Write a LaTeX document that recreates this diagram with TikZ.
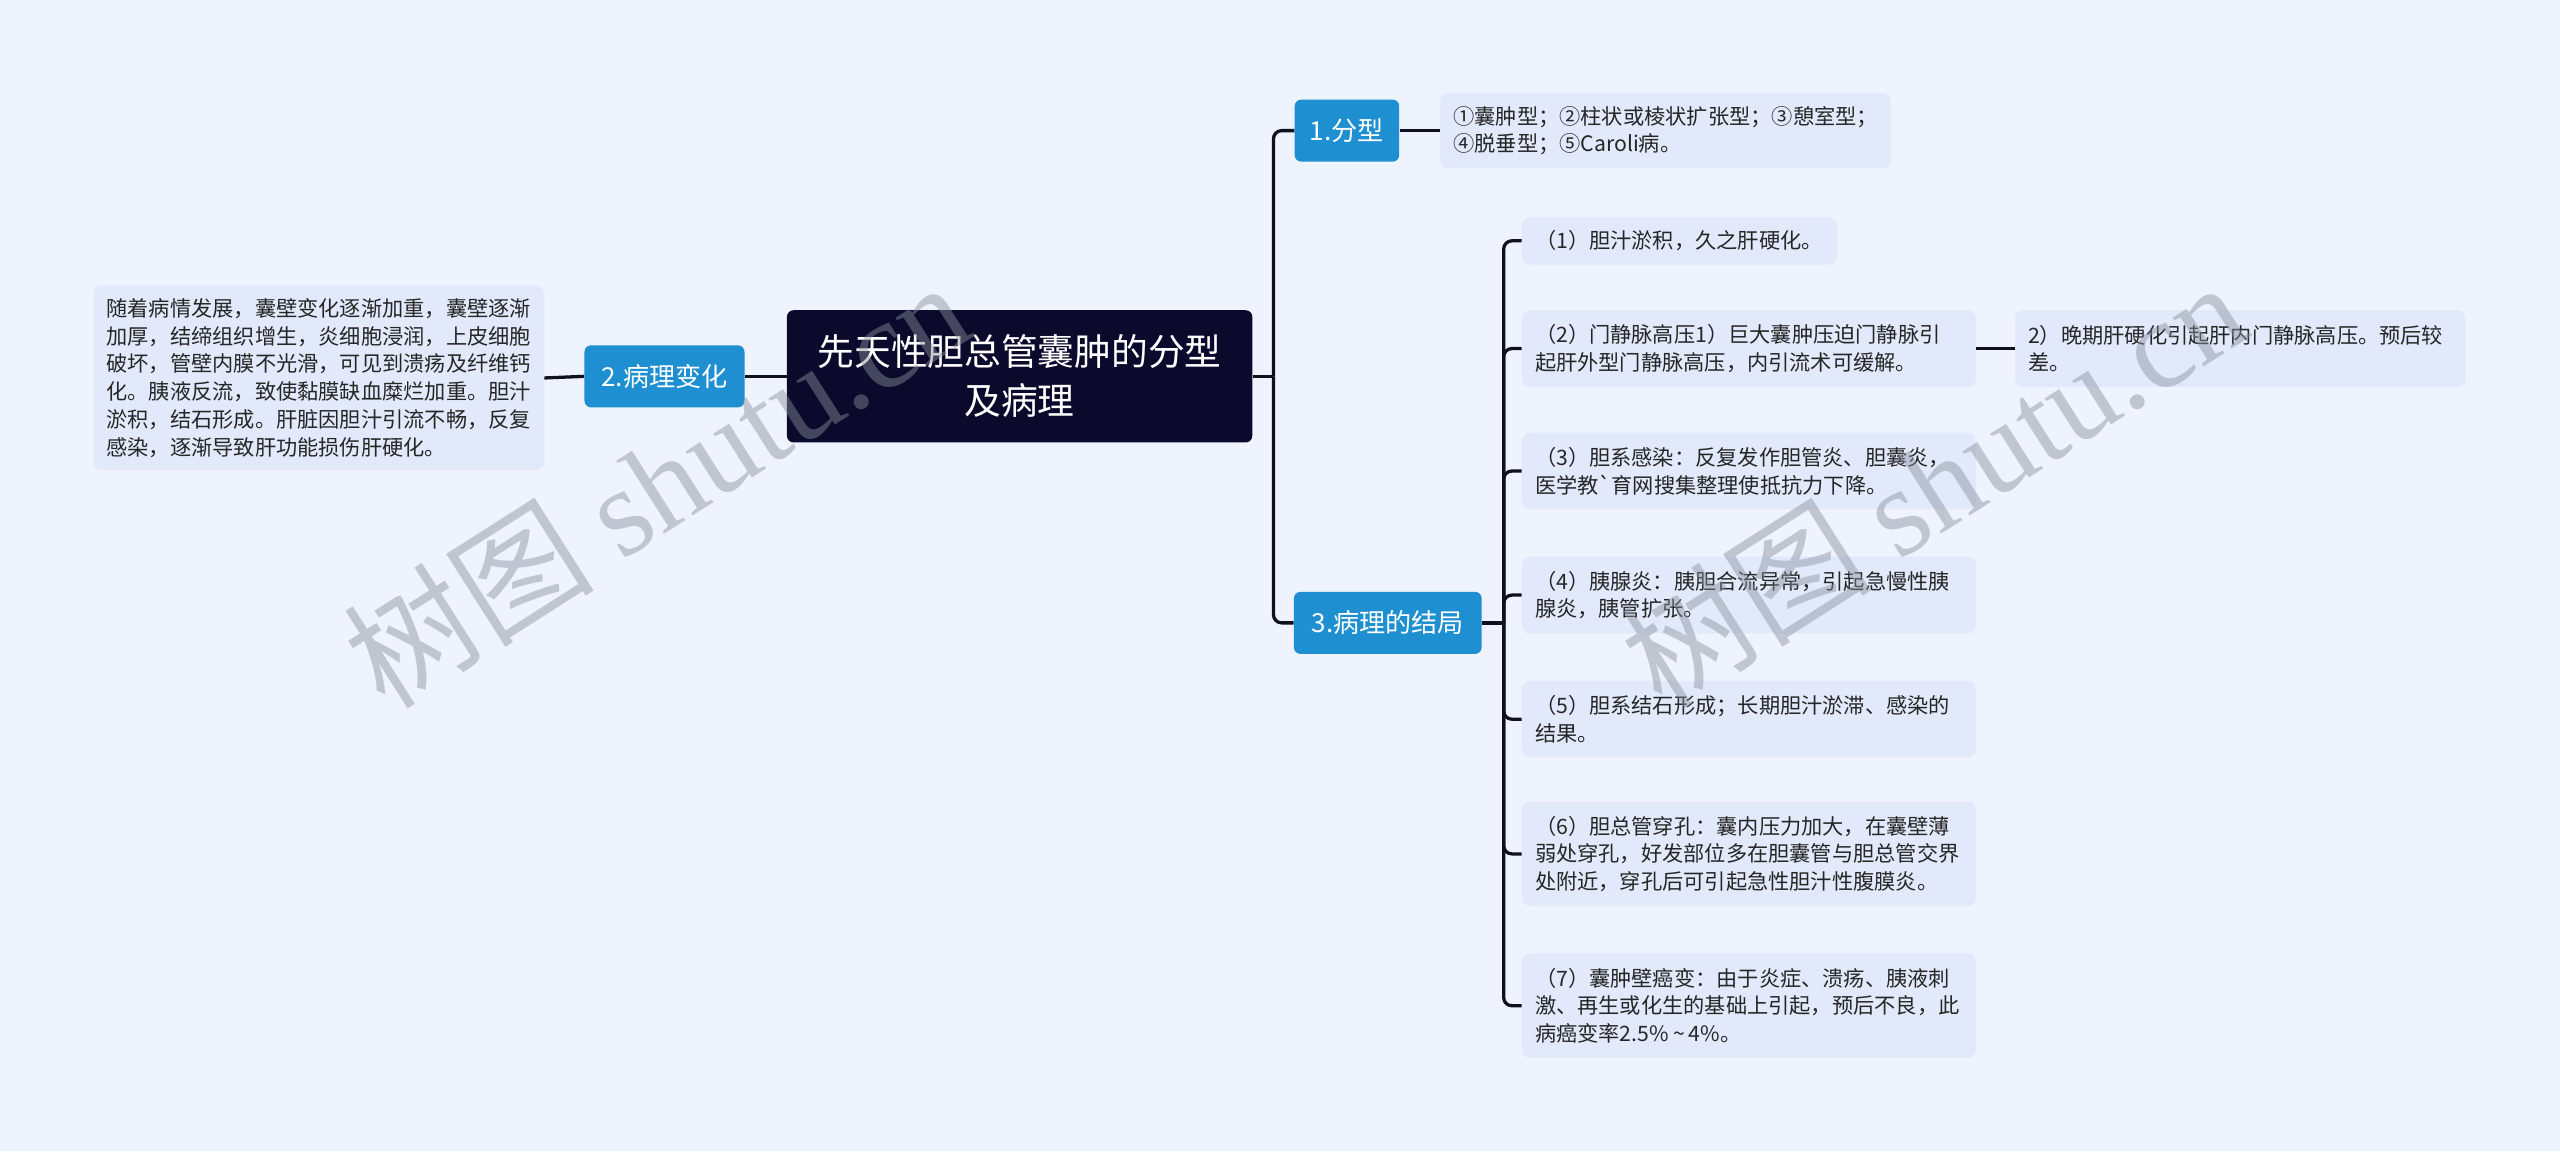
\documentclass[tikz,border=0pt]{standalone}
\usepackage{fontspec}
\setmainfont{Noto Sans CJK SC}[Ligatures=TeXOff]
\newfontfamily\wmserif{Liberation Serif}
\definecolor{bgc}{HTML}{EEF3FD}
\definecolor{rootc}{HTML}{0B0A2C}
\definecolor{topicc}{HTML}{1E8FD0}
\definecolor{boxc}{HTML}{E1E9FA}
\definecolor{linec}{HTML}{10101E}
\definecolor{txtc}{HTML}{262626}
\definecolor{wmc}{HTML}{8A909C}
\begin{document}
\begin{tikzpicture}[x=1pt,y=-1pt,
  rootnode/.style={fill=rootc,text=white,rounded corners=4pt,inner sep=0pt,align=center,
    font=\fontsize{22.5}{30}\selectfont,minimum width=285pt,minimum height=81pt},
  topic/.style={fill=topicc,text=white,rounded corners=4pt,inner sep=0pt,
    font=\fontsize{16}{20}\selectfont,minimum height=38pt},
  leaf/.style={fill=boxc,text=txtc,rounded corners=5pt,inner xsep=8pt,inner ysep=0pt,
    align=left,anchor=west,font=\fontsize{13}{17}\selectfont},
  conn/.style={draw=linec,line width=2pt},
  wm/.style={text=wmc,opacity=0.45,font=\fontsize{77}{77}\selectfont,anchor=base west,rotate=32.5,inner sep=0pt}
]
\fill[bgc] (0,0) rectangle (1568,705);
\useasboundingbox (0,0) rectangle (1568,705);

% main nodes
\node[rootnode] (root) at (624.5,230.5) {先天性胆总管囊肿的分型\\及病理};
\node[topic,minimum width=98pt] (n2) at (407,230.5) {2.病理变化};
\node[topic,minimum width=64pt] (n1) at (825,80) {1.分型};
\node[topic,minimum width=115pt] (n3) at (850,381.5) {3.病理的结局};

% leaves
\node[leaf,text width=260pt,minimum height=113pt] (lb) at (57,231.5) {随着病情发展，囊壁变化逐渐加重，囊壁逐渐\\加厚，结缔组织增生，炎细胞浸润，上皮细胞\\破坏，管壁内膜不光滑，可见到溃疡及纤维钙\\化。胰液反流，致使黏膜缺血糜烂加重。胆汁\\淤积，结石形成。肝脏因胆汁引流不畅，反复\\感染，逐渐导致肝功能损伤肝硬化。};
\node[leaf,text width=260pt,minimum height=46pt] (t1) at (882,80) {①囊肿型；②柱状或棱状扩张型；③憩室型；\\④脱垂型；⑤Caroli病。};
\node[leaf,text width=177pt,minimum height=29pt] (c1) at (932,147.5) {（1）胆汁淤积，久之肝硬化。};
\node[leaf,text width=262pt,minimum height=47pt] (c2) at (932,213.5) {（2）门静脉高压1）巨大囊肿压迫门静脉引\\起肝外型门静脉高压，内引流术可缓解。};
\node[leaf,text width=260pt,minimum height=47pt] (c2b) at (1234,213.5) {2）晚期肝硬化引起肝内门静脉高压。预后较\\差。};
\node[leaf,text width=262pt,minimum height=47pt] (c3) at (932,288.5) {（3）胆系感染：反复发作胆管炎、胆囊炎，\\医学教`育网搜集整理使抵抗力下降。};
\node[leaf,text width=262pt,minimum height=47pt] (c4) at (932,364.5) {（4）胰腺炎：胰胆合流异常，引起急慢性胰\\腺炎，胰管扩张。};
\node[leaf,text width=262pt,minimum height=47pt] (c5) at (932,440.5) {（5）胆系结石形成；长期胆汁淤滞、感染的\\结果。};
\node[leaf,text width=262pt,minimum height=64pt] (c6) at (932,523) {（6）胆总管穿孔：囊内压力加大，在囊壁薄\\弱处穿孔，好发部位多在胆囊管与胆总管交界\\处附近，穿孔后可引起急性胆汁性腹膜炎。};
\node[leaf,text width=262pt,minimum height=64pt] (c7) at (932,616) {（7）囊肿壁癌变：由于炎症、溃疡、胰液刺\\激、再生或化生的基础上引起，预后不良，此\\病癌变率2.5\%\hspace{2.5pt}\textasciitilde\hspace{2.5pt}4\%。};

% connectors
\coordinate (j0) at (780,230.5);
\coordinate (j3) at (921,381.5);
\draw[conn] (root.west) -- (n2.east);
\draw[conn] (n2.west) -- (lb.east);
\draw[conn] (root.east) -- (j0);
\draw[conn,rounded corners=5pt] (j0) |- (n1.west);
\draw[conn,rounded corners=5pt] (j0) |- (n3.west);
\draw[conn] (n1.east) -- (t1.west);
\draw[conn] (n3.east) -- (j3);
\foreach \c in {c1,c2,c3,c4,c5,c6,c7}{
  \draw[conn,rounded corners=5pt] (j3) |- (\c.west);
}
\draw[conn] (c2.east) -- (c2b.west);

% watermarks
\node[wm] (wm1) at (236,436) {树图 {\wmserif shutu.cn}};
\node[wm] (wm2) at (1018,436) {树图 {\wmserif shutu.cn}};
\end{tikzpicture}
\end{document}
